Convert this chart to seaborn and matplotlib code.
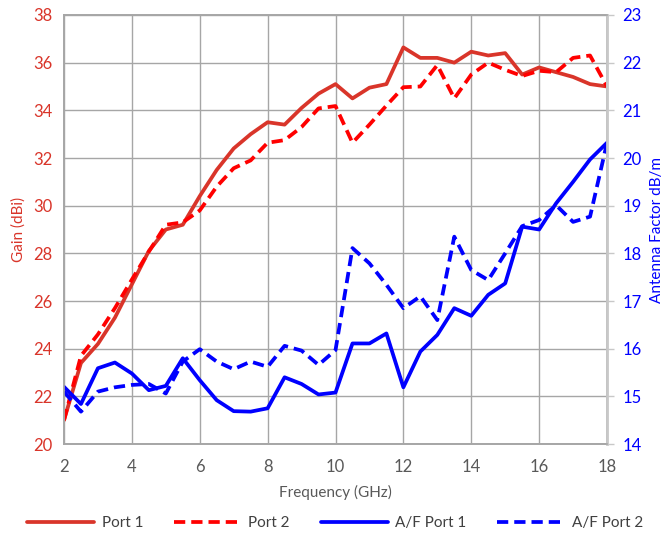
import numpy as np
import matplotlib
matplotlib.use("Agg")
import matplotlib.pyplot as plt
import seaborn as sns
import pandas as pd

# frequency sweep, 0.5 GHz steps
freq = [2, 2.5, 3, 3.5, 4, 4.5, 5, 5.5, 6, 6.5, 7, 7.5, 8, 8.5, 9, 9.5, 10,
        10.5, 11, 11.5, 12, 12.5, 13, 13.5, 14, 14.5, 15, 15.5, 16, 16.5, 17, 17.5, 18]

gain_p1 = [21.0, 23.4, 24.2, 25.3, 26.7, 28.1, 29.0, 29.2, 30.4, 31.5, 32.4, 33.0, 33.5,
           33.4, 34.1, 34.7, 35.1, 34.5, 34.95, 35.1, 36.64, 36.2, 36.2, 36.0, 36.46,
           36.3, 36.4, 35.5, 35.8, 35.6, 35.4, 35.1, 35.0]
gain_p2 = [21.0, 23.7, 24.6, 25.7, 26.9, 28.07, 29.2, 29.3, 29.8, 30.8, 31.57, 31.9, 32.64,
           32.75, 33.3, 34.08, 34.18, 32.64, 33.4, 34.2, 34.97, 35.0, 35.9, 34.5, 35.5,
           36.0, 35.7, 35.44, 35.66, 35.6, 36.2, 36.3, 35.0]
af_p1 = [15.2, 14.84, 15.59, 15.71, 15.48, 15.13, 15.22, 15.8, 15.34, 14.92, 14.69, 14.68,
         14.75, 15.4, 15.26, 15.04, 15.08, 16.11, 16.11, 16.32, 15.19, 15.94, 16.29, 16.85,
         16.69, 17.13, 17.37, 18.56, 18.5, 19.05, 19.5, 19.97, 20.32]
af_p2 = [15.1, 14.68, 15.1, 15.19, 15.24, 15.26, 15.06, 15.73, 15.99, 15.73, 15.57, 15.73,
         15.62, 16.06, 15.96, 15.66, 15.97, 18.11, 17.79, 17.34, 16.85, 17.1, 16.6, 18.35,
         17.65, 17.44, 18.0, 18.57, 18.7, 19.01, 18.66, 18.77, 20.32]

red1 = "#D9352A"
red2 = "#FF0000"
blue = "#0000FF"
grid_c = "#A6A6A6"

sns.set_style("white")
plt.rcParams['font.family'] = ['Lato', 'DejaVu Sans']

df = pd.DataFrame({"freq": freq, "p1": gain_p1, "p2": gain_p2, "a1": af_p1, "a2": af_p2})

fig = plt.figure(figsize=(6.7, 5.35), dpi=100)
ax = fig.add_axes([0.0955, 0.170, 0.8105, 0.802])
ax2 = ax.twinx()

lw = 2.7
sns.lineplot(data=df, x="freq", y="p1", ax=ax, color=red1, lw=lw, label="Port 1", legend=False)
sns.lineplot(data=df, x="freq", y="p2", ax=ax, color=red2, lw=lw, label="Port 2", legend=False)
ax.lines[1].set_dashes((3, 1.6))
sns.lineplot(data=df, x="freq", y="a1", ax=ax2, color=blue, lw=lw, label="A/F Port 1", legend=False)
sns.lineplot(data=df, x="freq", y="a2", ax=ax2, color=blue, lw=lw, label="A/F Port 2", legend=False)
ax2.lines[1].set_dashes((3, 1.6))

ax.set_xlim(2, 18)
ax.set_ylim(20, 38)
ax2.set_ylim(14, 23)
ax.set_xticks(range(2, 19, 2))
ax.set_yticks(range(20, 39, 2))
ax2.set_yticks(range(14, 24))

ax.grid(True, color=grid_c, lw=1)
ax.set_axisbelow(True)
for a in (ax, ax2):
    for s in a.spines.values():
        s.set_color(grid_c)
        s.set_linewidth(1.2)
ax2.spines["right"].set_color("#C8C8C8")
ax2.spines["right"].set_linewidth(2)

ax.tick_params(axis="y", colors=red1, labelsize=12, length=0, pad=8)
ax.tick_params(axis="x", colors="#595959", labelsize=12, length=0, pad=11)
ax2.tick_params(axis="y", colors=blue, labelsize=12, length=5, width=1, color="#C8C8C8", pad=6)
for t in ax2.get_yticklabels():
    t.set_color(blue)

ax.set_xlabel("Frequency (GHz)", color="#595959", fontsize=11, labelpad=7)
ax.set_ylabel("Gain (dBi)", color=red1, fontsize=11, labelpad=6)
ax2.set_ylabel("Antenna Factor dB/m", color=blue, fontsize=11, labelpad=6)

handles = ax.lines[:2] + ax2.lines[:2]
labels = ["Port 1", "Port 2", "A/F Port 1", "A/F Port 2"]
fig.legend(handles, labels, loc="center", bbox_to_anchor=(0.5, 0.022), ncol=4,
           frameon=False, fontsize=11, handlelength=4.4, columnspacing=2.0,
           handletextpad=0.5, labelcolor="#404040")

fig.savefig("out.png", dpi=100)
